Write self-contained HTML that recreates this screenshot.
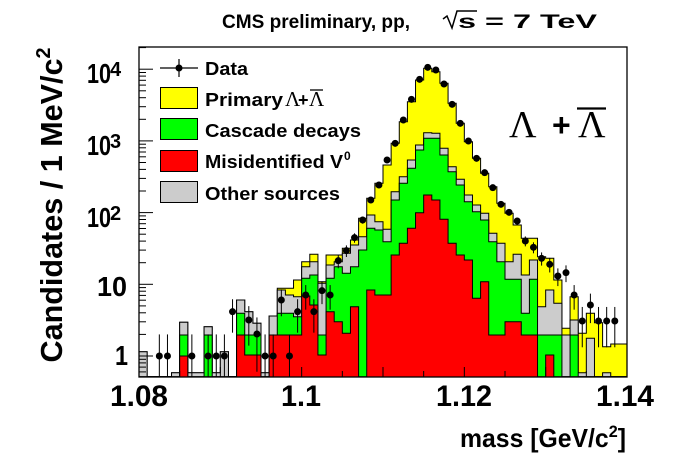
<!DOCTYPE html>
<html><head><meta charset="utf-8"><style>
html,body{margin:0;padding:0;background:#fff;}
svg{display:block;}
.b{font-family:"Liberation Sans",Arial,sans-serif;font-weight:bold;}
.sr{font-family:"Liberation Serif",serif;font-weight:normal;}
</style></head><body>
<svg id="s" width="696" height="472" xmlns="http://www.w3.org/2000/svg">
<rect width="696" height="472" fill="#fff"/>
<g id="hist"></g>
<rect x="139" y="47" width="488" height="330" fill="none" stroke="#000" stroke-width="1.3"/>
<g id="ticks" stroke="#000" stroke-width="1"></g>
<g id="data"></g>
<text class="b" x="222" y="28" font-size="19" textLength="188" lengthAdjust="spacingAndGlyphs">CMS preliminary, pp,</text>
<text class="b" x="458" y="28" font-size="19" textLength="139" lengthAdjust="spacingAndGlyphs">s = 7 TeV</text>
<path d="M443 19 L447 16 L452 28 L457 11 L477 11" fill="none" stroke="#000" stroke-width="1.5"/>
<text class="b" transform="translate(62,205) rotate(-90)" text-anchor="middle" font-size="31" textLength="315" lengthAdjust="spacingAndGlyphs">Candidates / 1 MeV/c<tspan dy="-12" font-size="20">2</tspan></text>
<g class="b" font-size="30">
<text x="110" y="406" textLength="58" lengthAdjust="spacingAndGlyphs">1.08</text>
<text x="281" y="406" textLength="40" lengthAdjust="spacingAndGlyphs">1.1</text>
<text x="436" y="406" textLength="56" lengthAdjust="spacingAndGlyphs">1.12</text>
<text x="596" y="406" textLength="58" lengthAdjust="spacingAndGlyphs">1.14</text>
</g>
<text class="b" x="460" y="447" font-size="26" textLength="166" lengthAdjust="spacingAndGlyphs">mass [GeV/c<tspan dy="-10" font-size="17">2</tspan><tspan dy="10">]</tspan></text>
<g class="b" font-size="28">
<text x="87" y="83" textLength="24" lengthAdjust="spacingAndGlyphs">10</text><text x="110" y="76" font-size="20">4</text>
<text x="87" y="155" textLength="24" lengthAdjust="spacingAndGlyphs">10</text><text x="110" y="148" font-size="20">3</text>
<text x="87" y="227" textLength="24" lengthAdjust="spacingAndGlyphs">10</text><text x="110" y="220" font-size="20">2</text>
<text x="97" y="296" textLength="30" lengthAdjust="spacingAndGlyphs">10</text>
<text x="115" y="365" textLength="13" lengthAdjust="spacingAndGlyphs">1</text>
</g>
<line x1="160" y1="68" x2="198" y2="68" stroke="#000" stroke-width="1.2"/>
<line x1="179" y1="59" x2="179" y2="77" stroke="#000" stroke-width="1.2"/>
<circle cx="179" cy="68" r="3.5"/>
<rect x="160.5" y="87.5" width="37" height="21" fill="#ff0" stroke="#000"/>
<rect x="160.5" y="118.5" width="37" height="21" fill="#0f0" stroke="#000"/>
<rect x="160.5" y="150.5" width="37" height="21" fill="#f00" stroke="#000"/>
<rect x="160.5" y="181.5" width="37" height="21" fill="#ccc" stroke="#000"/>
<g class="b" font-size="18">
<text x="205" y="75" textLength="43" lengthAdjust="spacingAndGlyphs">Data</text>
<text x="205" y="106" textLength="78" lengthAdjust="spacingAndGlyphs">Primary</text>
<text class="sr" x="285" y="106" font-size="21">Λ</text>
<text x="298" y="106">+</text>
<text class="sr" x="309" y="106" font-size="21">Λ</text>
<line x1="310" y1="90" x2="323" y2="90" stroke="#000" stroke-width="1.3"/>
<text x="205" y="137" textLength="156" lengthAdjust="spacingAndGlyphs">Cascade decays</text>
<text x="205" y="168" textLength="138" lengthAdjust="spacingAndGlyphs">Misidentified V</text><text x="344" y="160" font-size="12">0</text>
<text x="205" y="200" textLength="135" lengthAdjust="spacingAndGlyphs">Other sources</text>
</g>
<text class="sr" x="509" y="137" font-size="38">Λ</text>
<text class="b" x="552" y="136" font-size="32">+</text>
<text class="sr" x="578" y="137" font-size="38">Λ</text>
<line x1="577" y1="108.5" x2="606" y2="108.5" stroke="#000" stroke-width="2.2"/>
</svg>
<script>
var B=1010;
var H=[
[B,B,935,935],[B,B,B,B],[B,B,B,B],[B,B,B,B],[B,B,998,998],
[948,885,847,847],[B,B,998,998],[B,B,998,998],[B,885,860,860],[B,B,998,998],
[B,B,935,935],[B,B,B,B],[885,820,780,780],[945,885,815,815],[945,885,850,850],
[B,B,998,998],[885,885,828,828],[885,820,750,745],[885,820,765,745],[885,830,770,720],
[768,715,680,665],[795,705,665,643],[945,885,730,725],[815,715,675,645],[845,680,665,645],
[880,700,640,625],[800,680,615,600],[B,630,590,535],[750,565,525,475],[765,570,545,430],
[765,605,568,375],[645,480,455,310],[610,430,410,245],[565,385,360,185],[518,330,315,120],
[465,295,278,85],[480,295,280,95],[538,345,325,130],[610,395,380,190],[645,435,418,250],
[660,485,465,305],[775,515,495,355],[725,540,520,400],[885,605,580,440],[885,665,610,490],
[845,718,665,520],[845,718,643,555],[885,820,705,595],[885,718,660,595],[B,885,800,650],
[945,885,750,655],[B,885,790,720],[B,B,885,865],[B,885,840,770],[B,B,998,880],
[B,B,895,820],[B,B,B,848],[B,B,998,920],[B,B,B,912],[B,B,B,912]];
function Y(z){return 40+z/3;}
var x0=139,w=488/60;
var cols=["#ff0","#ccc","#0f0","#f00"],idx=[3,2,1,0];
var g=document.getElementById('hist'),s='';
for(var k=0;k<4;k++){
 var li=idx[k],d='M'+x0+' 377';
 for(var i=0;i<60;i++){var y=Y(H[i][li]);d+=' L'+(x0+i*w).toFixed(2)+' '+y.toFixed(1)+' L'+(x0+(i+1)*w).toFixed(2)+' '+y.toFixed(1);}
 d+=' L627 377 Z';
 s+='<path d="'+d+'" fill="'+cols[k]+'" stroke="#000" stroke-width="1"/>';
}
g.innerHTML=s;
var D={2:948,3:948,6:948,8:948,9:948,10:948,11:815,13:840,14:882,15:948,16:948,17:780,18:948,19:815,20:765,21:815,22:752,23:765,24:662,25:632,26:593,27:540,28:480,29:435,30:360,
31:310,32:240,33:178,34:118,35:82,36:90,37:132,38:193,39:250,40:303,41:355,42:398,43:443,44:493,45:517,46:543,47:603,48:622,49:655,50:673,51:708,52:698,53:765,54:843,55:795,56:843,57:843,58:843};
var ds='';
for(var i in D){var xc=x0+(+i+0.5)*w,y=Y(D[i]);var v=Math.pow(10,(356-y)/71.7);
 var e=Math.sqrt(v);var yt=356-Math.log10(v+e)*71.7;var yb=v-e>0.55?356-Math.log10(v-e)*71.7:377;
 if(yb-yt>7)ds+='<line x1="'+xc+'" y1="'+yt+'" x2="'+xc+'" y2="'+yb+'" stroke="#000" stroke-width="1"/>';
 ds+='<circle cx="'+xc+'" cy="'+y+'" r="3.5"/>';}
document.getElementById('data').innerHTML=ds;
var t='';
for(var i=0;i<=12;i++){var x=x0+i*488/12,L=(i%2==0)?10:6;t+='<line x1="'+x+'" y1="377" x2="'+x+'" y2="'+(377-L)+'"/>';}
for(var dec=-1;dec<=4;dec++){for(var m=1;m<10;m++){var y=356-(dec+Math.log10(m))*71.7;if(y<47||y>377)continue;var L=m==1?14:7;t+='<line x1="139" y1="'+y.toFixed(1)+'" x2="'+(139+L)+'" y2="'+y.toFixed(1)+'"/>';}}
document.getElementById('ticks').innerHTML=t;
</script>
</body></html>
